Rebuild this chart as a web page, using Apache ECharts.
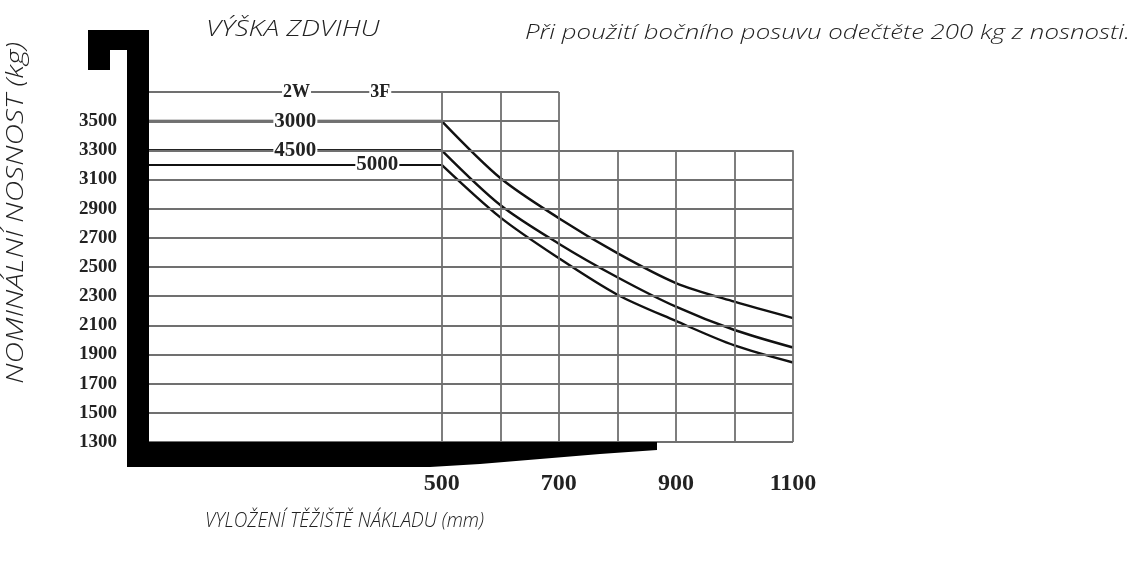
<!DOCTYPE html>
<html><head><meta charset="utf-8">
<script src="https://cdn.jsdelivr.net/npm/echarts@6/dist/echarts.min.js"></script>
<style>html,body{margin:0;padding:0;background:#fff}#c{width:1136px;height:563px}</style>
</head><body><div id="c"></div>
<script>
// ---- data ----
const loadCentres = [0, 500, 600, 700, 800, 900, 1000, 1100];
const lift3000 = [3500, 3500, 3110, 2835, 2595, 2390, 2262, 2150];
const lift4500 = [3300, 3300, 2925, 2660, 2430, 2228, 2068, 1948];
const lift5000 = [3200, 3200, 2840, 2560, 2310, 2130, 1962, 1845];
const liftNames = ['3000', '4500', '5000'];
const liftLabelX = [250, 250, 390];
const mastNames = ['2W', '3F'];
const mastLabelX = [252, 395];
const mastLabelY = 3700;
const xTickLabels = [500, 700, 900, 1100];
const yTickLabels = [1300, 1500, 1700, 1900, 2100, 2300, 2500, 2700, 2900, 3100, 3300, 3500];
const hGridFull = [1300, 1500, 1700, 1900, 2100, 2300, 2500, 2700, 2900, 3100, 3300];
const hGridShort = [3500, 3700];
const hGridShortEnd = 700;
const vGridTall = [500, 600, 700];
const vGridShort = [800, 900, 1000, 1100];
const vGridShortTop = 3300;

// ---- chart ----
const chart = echarts.init(document.getElementById('c'));
const numFont = "'Liberation Serif', 'DejaVu Serif', serif";
const txtFont = "'Open Sans', 'Noto Sans', sans-serif";
const XMIN = 0, XMAX = 1100, YMIN = 1300, YMAX = 3700;

const gridLines = [];
hGridFull.forEach(y => gridLines.push([{coord: [XMIN, y]}, {coord: [XMAX, y]}]));
hGridShort.forEach(y => gridLines.push([{coord: [XMIN, y]}, {coord: [hGridShortEnd, y]}]));
vGridTall.forEach(x => gridLines.push([{coord: [x, YMIN]}, {coord: [x, YMAX]}]));
vGridShort.forEach(x => gridLines.push([{coord: [x, YMIN]}, {coord: [x, vGridShortTop]}]));

const lifts = [lift3000, lift4500, lift5000];
const flatStyles = [
  {color: '#444', width: 3},
  {color: '#222', width: 2.6},
  {color: '#111', width: 2}
];
const series = [{
  type: 'line', data: [], silent: true,
  markLine: {
    silent: true, symbol: 'none', animation: false,
    label: {show: false},
    lineStyle: {color: '#707070', width: 1.8, type: 'solid'},
    data: gridLines
  },
  markPoint: {
    symbol: 'rect', symbolSize: 0, animation: false,
    label: {show: true, position: 'inside', formatter: p => p.name,
      fontFamily: numFont, fontWeight: 'bold', fontSize: 18, color: '#222',
      backgroundColor: '#fff', padding: [0, 1]},
    data: mastNames.map((n, i) => ({name: n, coord: [mastLabelX[i], mastLabelY]}))
  }
}];
lifts.forEach((vals, k) => {
  const pts = loadCentres.map((x, i) => [x, vals[i]]);
  series.push({
    type: 'line', data: pts.slice(0, 2), symbol: 'none', z: 3,
    lineStyle: flatStyles[k], animation: false,
    markPoint: {
      symbol: 'rect', symbolSize: 0, animation: false,
      label: {show: true, position: 'inside', formatter: p => p.name,
        fontFamily: numFont, fontWeight: 'bold', fontSize: 21, color: '#222',
        backgroundColor: '#fff', padding: [0, 1]},
      data: [{name: liftNames[k], coord: [liftLabelX[k], vals[0]]}]
    }
  });
  series.push({
    type: 'line', data: pts.slice(1), symbol: 'none', smooth: 0.3, z: 3,
    lineStyle: {color: '#111', width: 2.4}, animation: false
  });
});

const option = {
  backgroundColor: '#fff',
  animation: false,
  grid: {left: 149, right: 343, top: 92, bottom: 121, containLabel: false},
  xAxis: {
    type: 'value', min: XMIN, max: XMAX, interval: 100,
    axisLine: {show: false}, axisTick: {show: false}, splitLine: {show: false},
    axisLabel: {
      margin: 30, fontFamily: numFont, fontWeight: 'bold', fontSize: 24, color: '#222',
      formatter: v => xTickLabels.includes(v) ? String(v) : ''
    }
  },
  yAxis: {
    type: 'value', min: YMIN, max: YMAX, interval: 200,
    axisLine: {show: false}, axisTick: {show: false}, splitLine: {show: false},
    axisLabel: {
      margin: 32, fontFamily: numFont, fontWeight: 'bold', fontSize: 19, color: '#222',
      formatter: v => yTickLabels.includes(v) ? String(v) : ''
    }
  },
  series: series,
  graphic: [
    {type: 'polygon', z: 100, silent: true,
      shape: {points: [[88, 30], [149, 30], [149, 442], [657, 442], [657, 450], [600, 454], [540, 459], [480, 464], [430, 467], [127, 467], [127, 50], [110, 50], [110, 70], [88, 70]]},
      style: {fill: '#000'}},
    {type: 'text', z: 100, x: 206, y: 30, scaleX: 1.26, silent: true,
      style: {text: 'VÝŠKA ZDVIHU', font: 'italic 300 22px ' + txtFont, fill: '#222', textVerticalAlign: 'middle'}},
    {type: 'text', z: 100, x: 1130, y: 33, scaleX: 1.23, silent: true,
      style: {text: 'Při použití bočního posuvu odečtěte 200 kg z nosnosti.', font: 'italic 300 21px ' + txtFont, fill: '#222', textAlign: 'right', textVerticalAlign: 'middle'}},
    {type: 'text', z: 100, x: 205, y: 521, scaleX: 0.9, silent: true,
      style: {text: 'VYLOŽENÍ TĚŽIŠTĚ NÁKLADU (mm)', font: 'italic 300 21px ' + txtFont, fill: '#222', textVerticalAlign: 'middle'}},
    {type: 'text', z: 100, x: 16, y: 213, rotation: Math.PI / 2, scaleX: 1.3, silent: true,
      style: {text: 'NOMINÁLNÍ NOSNOST (kg)', font: 'italic 300 23px ' + txtFont, fill: '#222', textAlign: 'center', textVerticalAlign: 'middle'}}
  ]
};
chart.setOption(option);
</script>
</body></html>
